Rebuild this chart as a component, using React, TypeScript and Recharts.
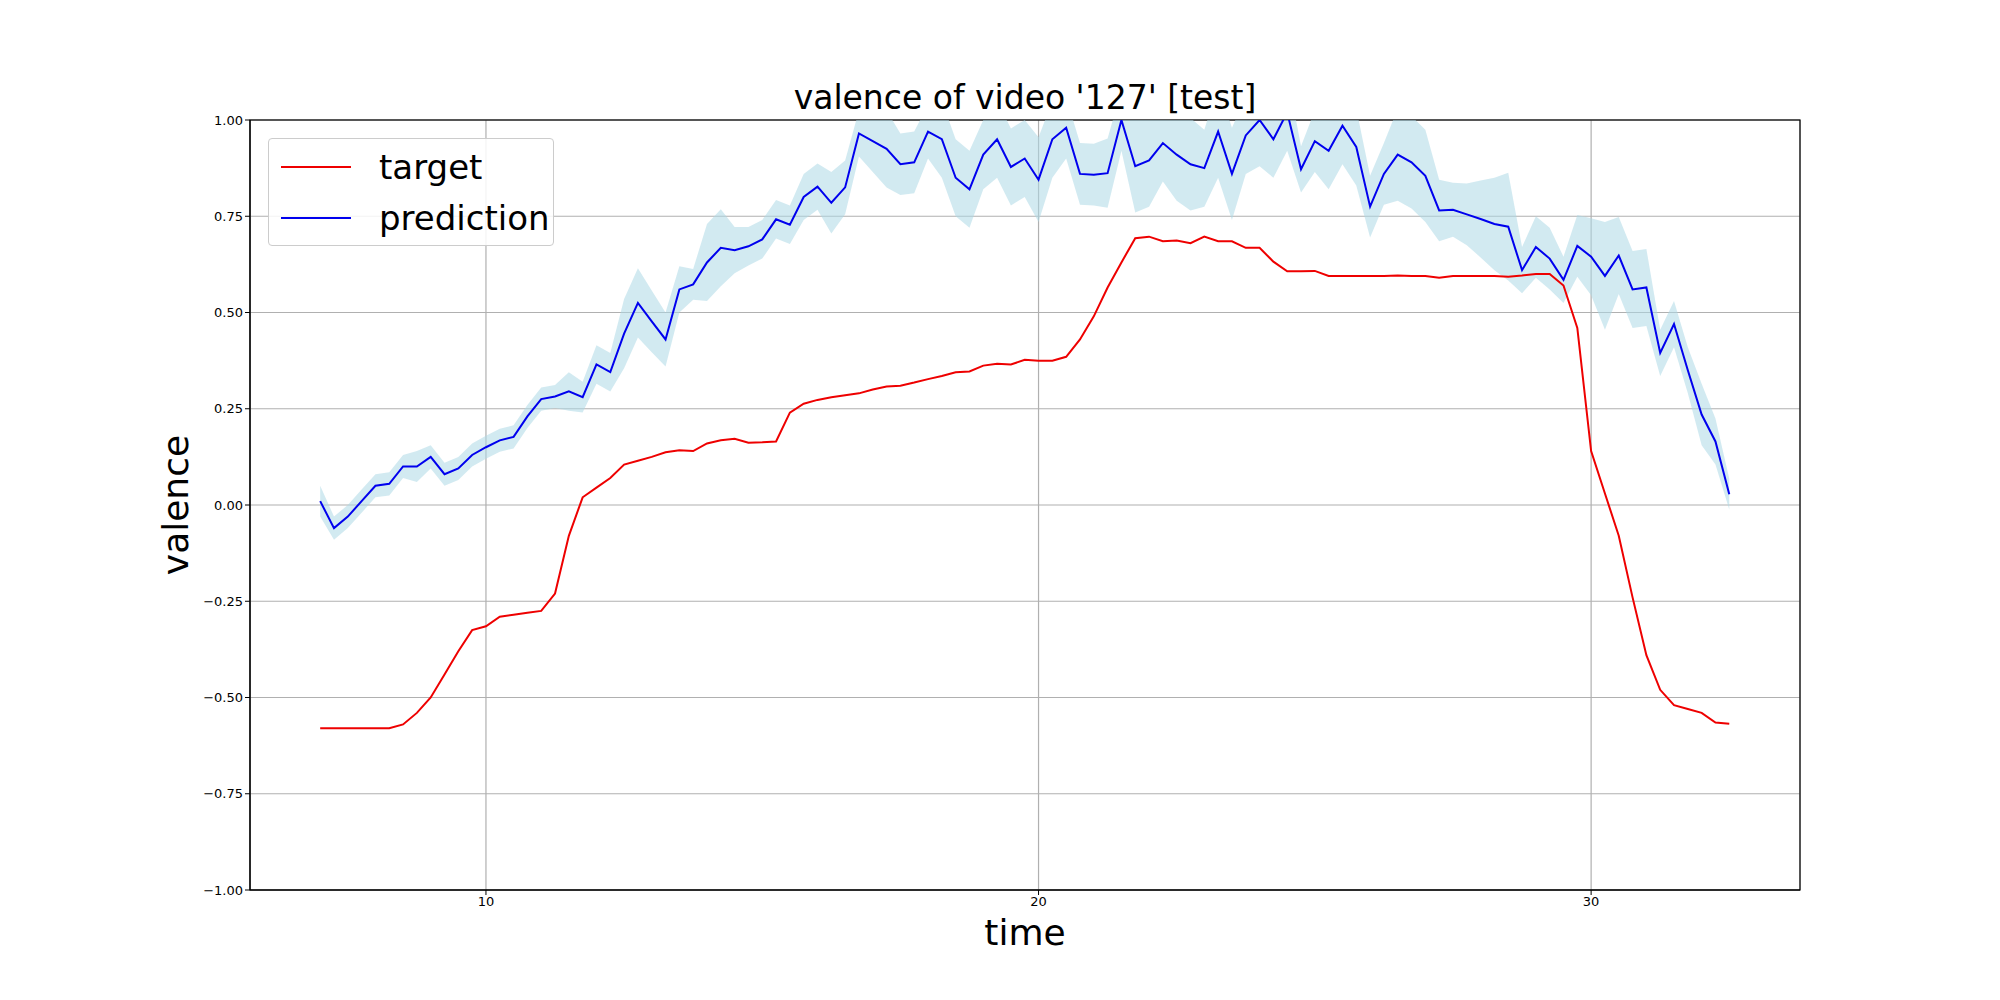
import { ComposedChart, Line, Area, XAxis, YAxis, CartesianGrid } from 'recharts'

const T0 = 7.0
const STEP = 0.25

const target = [
  -0.58, -0.58, -0.58, -0.58, -0.58, -0.58, -0.57, -0.54, -0.50, -0.44, -0.38, -0.325, -0.315, -0.29, -0.285, -0.28, -0.275, -0.23,
  -0.08, 0.02, 0.045, 0.07, 0.105, 0.115, 0.125, 0.137, 0.142, 0.14, 0.16, 0.168, 0.172, 0.162, 0.163, 0.165, 0.24, 0.263, 0.273,
  0.28, 0.285, 0.29, 0.30, 0.308, 0.31, 0.318, 0.327, 0.335, 0.345, 0.347, 0.362, 0.367, 0.365, 0.377, 0.375, 0.375, 0.385, 0.43,
  0.49, 0.565, 0.63, 0.693, 0.697, 0.685, 0.687, 0.68, 0.697, 0.685, 0.685, 0.668, 0.668, 0.632, 0.607, 0.607, 0.608, 0.595, 0.595,
  0.595, 0.595, 0.595, 0.596, 0.595, 0.595, 0.59, 0.595, 0.595, 0.595, 0.595, 0.593, 0.596, 0.6, 0.6, 0.57, 0.46, 0.14, 0.03, -0.08,
  -0.24, -0.39, -0.48, -0.52, -0.53, -0.54, -0.565, -0.568,
]

const prediction = [
  0.01, -0.06, -0.03, 0.01, 0.05, 0.055, 0.10, 0.10, 0.125, 0.08, 0.095, 0.13, 0.15, 0.168, 0.177, 0.23, 0.275, 0.282, 0.295, 0.28,
  0.365, 0.345, 0.445, 0.525, 0.477, 0.43, 0.56, 0.573, 0.63, 0.668, 0.662, 0.672, 0.69, 0.742, 0.728, 0.80, 0.827, 0.785, 0.825,
  0.965, 0.945, 0.925, 0.885, 0.89, 0.97, 0.95, 0.85, 0.82, 0.91, 0.95, 0.878, 0.90, 0.845, 0.95, 0.98, 0.86, 0.858, 0.862, 1.0,
  0.88, 0.895, 0.94, 0.91, 0.885, 0.875, 0.97, 0.86, 0.96, 1.0, 0.95, 1.02, 0.872, 0.945, 0.92, 0.985, 0.93, 0.775, 0.86, 0.91,
  0.89, 0.855, 0.765, 0.767, 0.755, 0.743, 0.73, 0.723, 0.61, 0.67, 0.64, 0.585, 0.673, 0.645, 0.595, 0.648, 0.56, 0.565, 0.395,
  0.47, 0.35, 0.235, 0.165, 0.028,
]

// half-width of the shaded band around the prediction
const spread = [
  0.04, 0.03, 0.03, 0.03, 0.03, 0.03, 0.03, 0.04, 0.03, 0.03, 0.03, 0.03, 0.03, 0.03, 0.03, 0.03, 0.03, 0.03, 0.05, 0.04,
  0.05, 0.05, 0.09, 0.09, 0.08, 0.07, 0.06, 0.04, 0.1, 0.1, 0.06, 0.05, 0.05, 0.05, 0.05, 0.06, 0.06, 0.08, 0.07,
  0.06, 0.08, 0.1, 0.08, 0.08, 0.07, 0.1, 0.1, 0.1, 0.09, 0.1, 0.1, 0.1, 0.11, 0.1, 0.08, 0.08, 0.08, 0.09, 0.08,
  0.12, 0.12, 0.1, 0.12, 0.12, 0.1, 0.12, 0.12, 0.1, 0.12, 0.1, 0.1, 0.06, 0.08, 0.1, 0.1, 0.1, 0.08, 0.08, 0.12,
  0.12, 0.12, 0.08, 0.07, 0.08, 0.1, 0.12, 0.14, 0.06, 0.08, 0.08, 0.06, 0.08, 0.1, 0.14, 0.1, 0.1, 0.1, 0.06,
  0.06, 0.06, 0.08, 0.06, 0.04,
]

const xTicks = [10, 20, 30]
const yTicks = [-1, -0.75, -0.5, -0.25, 0, 0.25, 0.5, 0.75, 1]

const data = target.map((v, i) => ({
  time: T0 + i * STEP,
  target: v,
  prediction: prediction[i],
  band: [prediction[i] - spread[i], prediction[i] + spread[i]],
}))

const fmtY = (v: number) => (v < 0 ? '\u2212' + Math.abs(v).toFixed(2) : v.toFixed(2))
const font = 'DejaVu Sans, sans-serif'

export default function App() {
  return (
    <div style={{ position: 'absolute', left: 0, top: 0, width: 2000, height: 1000, fontFamily: font, background: '#fff' }}>
      <div style={{ position: 'absolute', left: 250, width: 1550, top: 78, textAlign: 'center', fontSize: 33 }}>
        valence of video '127' [test]
      </div>
      <div style={{ position: 'absolute', left: 250, width: 1550, top: 912, textAlign: 'center', fontSize: 36 }}>time</div>
      <div
        style={{
          position: 'absolute', left: 175, top: 505, fontSize: 36,
          transform: 'translate(-50%, -50%) rotate(-90deg)',
        }}
      >
        valence
      </div>
      <ComposedChart
        width={2000}
        height={1000}
        data={data}
        margin={{ top: 120, right: 200, bottom: 60, left: 190 }}
      >
        <CartesianGrid stroke="#b0b0b0" strokeWidth={1.2} />
        <XAxis
          dataKey="time"
          type="number"
          domain={[5.73, 33.78]}
          ticks={xTicks}
          height={50}
          stroke="#000"
          tick={{ fontSize: 13, fill: '#000', fontFamily: font }}
          tickSize={5}
          tickLine={{ stroke: '#000' }}
        />
        <YAxis
          type="number"
          domain={[-1, 1]}
          ticks={yTicks}
          allowDataOverflow
          width={60}
          stroke="#000"
          tickFormatter={fmtY}
          tick={{ fontSize: 13, fill: '#000', fontFamily: font }}
          tickSize={5}
        />
        <Area dataKey="band" stroke="none" fill="#add8e6" fillOpacity={0.55} isAnimationActive={false} />
        <Line dataKey="target" stroke="#ee0000" strokeWidth={2} dot={false} isAnimationActive={false} />
        <Line dataKey="prediction" stroke="#0000ee" strokeWidth={2} dot={false} isAnimationActive={false} />
        <rect x={250} y={120} width={1550} height={770} fill="none" stroke="#000" strokeWidth={1.2} />
      </ComposedChart>
      <div
        style={{
          position: 'absolute', left: 268, top: 138, width: 284, height: 106, border: '1px solid #ccc',
          borderRadius: 4, background: 'rgba(255,255,255,0.85)', fontSize: 34,
        }}
      >
        {[['target', '#ee0000'], ['prediction', '#0000ee']].map(([name, c], i) => (
          <div key={name} style={{ position: 'absolute', left: 12, top: 8 + i * 51, display: 'flex', alignItems: 'center' }}>
            <span style={{ display: 'inline-block', width: 70, height: 2, background: c, marginRight: 28 }} />
            {name}
          </div>
        ))}
      </div>
    </div>
  )
}
